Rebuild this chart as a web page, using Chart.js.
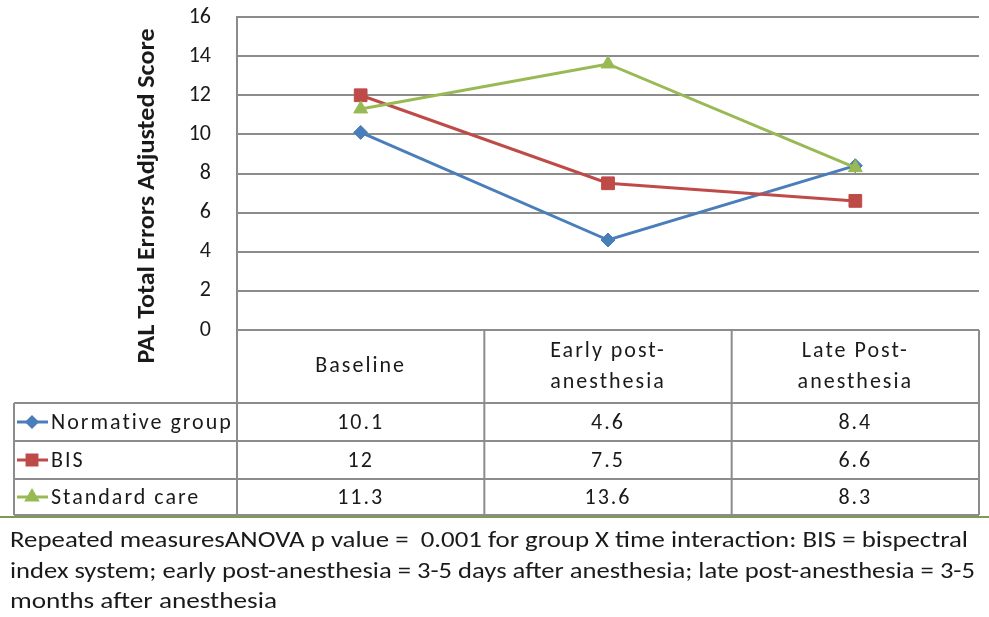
<!DOCTYPE html>
<html>
<head>
<meta charset="utf-8">
<script src="https://cdn.jsdelivr.net/npm/chart.js@4/dist/chart.umd.min.js"></script>
<style>
  html, body { margin: 0; padding: 0; background: #ffffff; }
  #wrap { width: 989px; height: 617px; }
</style>
</head>
<body>
<div id="wrap"><canvas id="c" width="989" height="617"></canvas></div>
<script>
// Time points shown as table columns (header text split into lines)
const categories = ['Baseline', 'Early post-anesthesia', 'Late Post-anesthesia'];
const headerLines = [['Baseline'], ['Early post-', 'anesthesia'], ['Late Post-', 'anesthesia']];

// Group means of PAL total errors adjusted score
const seriesNames = ['Normative group', 'BIS', 'Standard care'];
const normativeGroup = [10.1, 4.6, 8.4];
const bisGroup = [12, 7.5, 6.6];
const standardCare = [11.3, 13.6, 8.3];

// Y axis range and tick spacing
const yMin = 0;
const yMax = 16;
const yStep = 2;

const yTitle = 'PAL Total Errors Adjusted Score';
const footnoteLines = [
  'Repeated measuresANOVA p value =  0.001 for group X time interaction: BIS = bispectral',
  'index system; early post-anesthesia = 3-5 days after anesthesia; late post-anesthesia = 3-5',
  'months after anesthesia'
];

const FONT = "Carlito, 'Liberation Sans', Arial, sans-serif";
const TEXT = '#1a1a1a';
const GRID = '#8c8c8c';

const colors = ['#4A7EBB', '#BE4B48', '#98B954'];
const styles = ['rectRot', 'rect', 'triangle'];
const radii = [7, 9, 8];
const seriesData = [normativeGroup, bisGroup, standardCare];

// Draw text squeezed/stretched to a given width
function fitText(ctx, text, x, y, width) {
  const w = ctx.measureText(text).width;
  const s = width / w;
  ctx.save();
  ctx.translate(x, y);
  ctx.scale(s, 1);
  ctx.fillText(text, 0, 0);
  ctx.restore();
}

const tablePlugin = {
  id: 'dataTable',
  afterDraw(chart) {
    const ctx = chart.ctx;
    const xs = chart.scales.x;
    const area = chart.chartArea;
    const left = area.left, right = area.right;
    const top = area.bottom;              // table starts at the zero line
    const rowTops = [top, 403, 441, 479, 515];
    const legendLeft = 14;

    ctx.save();
    ctx.strokeStyle = GRID;
    ctx.lineWidth = 2;

    // column boundaries halfway between category centers
    const n = categories.length;
    const bounds = [left];
    for (let i = 0; i < n - 1; i++) {
      bounds.push((xs.getPixelForValue(i) + xs.getPixelForValue(i + 1)) / 2);
    }
    bounds.push(right);

    ctx.beginPath();
    for (let r = 1; r < rowTops.length; r++) {
      ctx.moveTo(legendLeft, rowTops[r]);
      ctx.lineTo(right, rowTops[r]);
    }
    bounds.forEach(b => { ctx.moveTo(b, top); ctx.lineTo(b, rowTops[4]); });
    ctx.moveTo(legendLeft, rowTops[1]);
    ctx.lineTo(legendLeft, rowTops[4]);
    ctx.stroke();

    // header labels
    ctx.fillStyle = TEXT;
    ctx.font = '22px ' + FONT;
    ctx.letterSpacing = '2px';
    ctx.textAlign = 'center';
    ctx.textBaseline = 'middle';
    headerLines.forEach((lines, i) => {
      const cx = xs.getPixelForValue(i);
      const midY = (rowTops[0] + rowTops[1]) / 2;
      const lh = 31;
      lines.forEach((t, k) => {
        ctx.fillText(t, cx, midY + (k - (lines.length - 1) / 2) * lh);
      });
    });

    // data rows
    seriesData.forEach((vals, r) => {
      const cy = (rowTops[r + 1] + rowTops[r + 2]) / 2;
      // legend key: short line with the series marker
      ctx.strokeStyle = colors[r];
      ctx.lineWidth = 3;
      ctx.beginPath();
      ctx.moveTo(17, cy);
      ctx.lineTo(48, cy);
      ctx.stroke();
      ctx.fillStyle = colors[r];
      Chart.helpers.drawPoint(ctx, {
        pointStyle: styles[r], radius: radii[r] - 2, borderWidth: 1, rotation: 0
      }, 32, cy);
      ctx.fillStyle = TEXT;
      ctx.textAlign = 'left';
      ctx.fillText(seriesNames[r], 51, cy + 1);
      ctx.textAlign = 'center';
      vals.forEach((v, i) => {
        ctx.fillText(String(v), xs.getPixelForValue(i), cy + 1);
      });
    });
    ctx.letterSpacing = '0px';

    // frame line under the table
    ctx.strokeStyle = '#7f9a55';
    ctx.lineWidth = 2;
    ctx.beginPath();
    ctx.moveTo(0, 517);
    ctx.lineTo(989, 517);
    ctx.stroke();

    // footnote
    ctx.fillStyle = TEXT;
    ctx.textAlign = 'left';
    ctx.textBaseline = 'alphabetic';
    ctx.font = '23px ' + FONT;
    const fnWidths = [958, 965, 267];
    footnoteLines.forEach((t, i) => fitText(ctx, t, 10, 547 + i * 30.5, fnWidths[i]));

    // y axis title
    ctx.font = 'bold 25px ' + FONT;
    ctx.textAlign = 'center';
    ctx.textBaseline = 'middle';
    ctx.save();
    ctx.translate(148, 196);
    ctx.rotate(-Math.PI / 2);
    fitText(ctx, yTitle, 0, 0, 335);
    ctx.restore();

    ctx.restore();
  }
};

new Chart(document.getElementById('c'), {
  type: 'line',
  data: {
    labels: categories,
    datasets: seriesNames.map((name, i) => ({
      label: name,
      data: seriesData[i],
      borderColor: colors[i],
      backgroundColor: colors[i],
      borderWidth: 3,
      pointStyle: styles[i],
      pointRadius: radii[i],
      pointBorderWidth: 1,
      pointBorderColor: colors[i],
      pointBackgroundColor: colors[i],
      tension: 0,
      order: 2 - i
    }))
  },
  options: {
    responsive: false,
    animation: false,
    events: [],
    layout: { padding: { left: 0, top: 17, right: 2, bottom: 287 } },
    plugins: { legend: { display: false }, tooltip: { enabled: false }, title: { display: false } },
    scales: {
      x: { display: false, offset: true },
      y: {
        min: yMin,
        max: yMax,
        afterFit(scale) { scale.width = 237; },
        border: { display: true, color: GRID, width: 2 },
        // invisible tick marks leave the gap between labels and the axis
        grid: { color: GRID, lineWidth: 2, drawTicks: true, tickLength: 26, tickColor: 'rgba(0,0,0,0)' },
        ticks: {
          stepSize: yStep,
          padding: 0,
          color: TEXT,
          font: { family: FONT, size: 22 }
        }
      }
    }
  },
  plugins: [tablePlugin]
});
</script>
</body>
</html>
